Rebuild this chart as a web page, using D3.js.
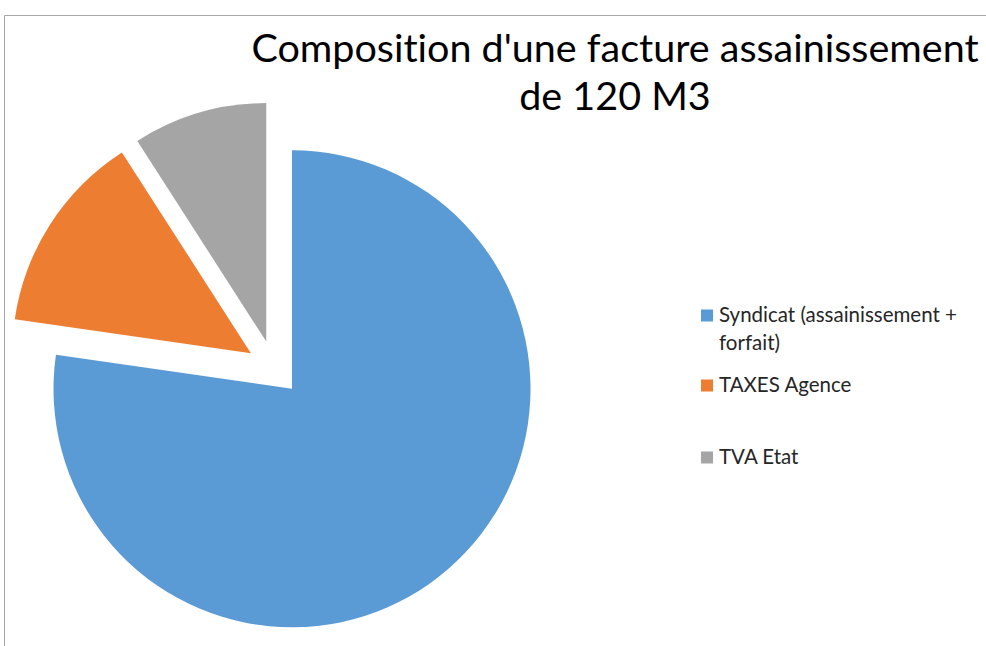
<!DOCTYPE html>
<html>
<head>
<meta charset="utf-8">
<script src="https://cdn.jsdelivr.net/npm/d3@7"></script>
<style>
  body { margin: 0; background: #fff; }
  svg { display: block; font-family: Lato, "Open Sans", sans-serif; font-variant-ligatures: none; }
</style>
</head>
<body>
<div id="chart"><svg></svg></div>
<script>
// sizes
var width = 986;
var height = 646;

// data (euros for 120 m3)
var categories = ["Syndicat (assainissement + forfait)", "TAXES Agence", "TVA Etat"];
var amounts = [340, 60, 40];
var colors = ["#5B9BD5", "#ED7D31", "#A5A5A5"];
var titleLines = ["Composition d'une facture assainissement", "de 120 M3"];

var cx = 274, cy = 368, radius = 238.5, explode = 27.5;

var svg = d3.select("#chart").select("svg")
    .attr("width", width)
    .attr("height", height);

// chart frame (cut at right and bottom)
svg.append("path")
    .attr("d", "M4.5," + height + " V15.5 H" + width)
    .attr("fill", "none")
    .attr("stroke", "#a6a6a6")
    .attr("stroke-width", 1);

var pie = d3.pie().sort(null).value(function(d){ return d; });
var arc = d3.arc().innerRadius(0).outerRadius(radius);

var slices = svg.append("g")
    .attr("transform", "translate(" + cx + "," + cy + ")")
    .selectAll("path")
    .data(pie(amounts))
    .enter().append("path")
    .attr("d", arc)
    .attr("fill", function(d, i){ return colors[i]; })
    .attr("transform", function(d){
        var a = (d.startAngle + d.endAngle) / 2;
        return "translate(" + (explode * Math.sin(a)) + "," + (-explode * Math.cos(a)) + ")";
    });

// title
svg.append("g").selectAll("text")
    .data(titleLines)
    .enter().append("text")
    .attr("x", 615)
    .attr("y", function(d, i){ return 62 + i * 48; })
    .attr("text-anchor", "middle")
    .attr("font-size", 39.5)
    .attr("fill", "#000")
    .text(function(d){ return d; });

// legend
var legendY = [321.5, 391.5, 463.5];
var legend = svg.append("g").selectAll("g")
    .data(categories)
    .enter().append("g")
    .attr("transform", function(d, i){ return "translate(701," + legendY[i] + ")"; });

legend.append("rect")
    .attr("y", -12)
    .attr("width", 12)
    .attr("height", 12)
    .attr("fill", function(d, i){ return colors[i]; });

legend.append("text")
    .attr("x", 18)
    .attr("font-size", 20.5)
    .attr("fill", "#262626")
    .each(function(d){
        // wrap long labels on two lines
        var t = d3.select(this);
        var words = d.split(" "), line = [];
        var tspan = t.append("tspan").attr("x", 18).attr("dy", 0);
        words.forEach(function(w){
            line.push(w);
            tspan.text(line.join(" "));
            if (tspan.node().getComputedTextLength() > 262 && line.length > 1) {
                line.pop();
                tspan.text(line.join(" "));
                line = [w];
                tspan = t.append("tspan").attr("x", 18).attr("dy", 28.5).text(w);
            }
        });
    });
</script>
</body>
</html>
